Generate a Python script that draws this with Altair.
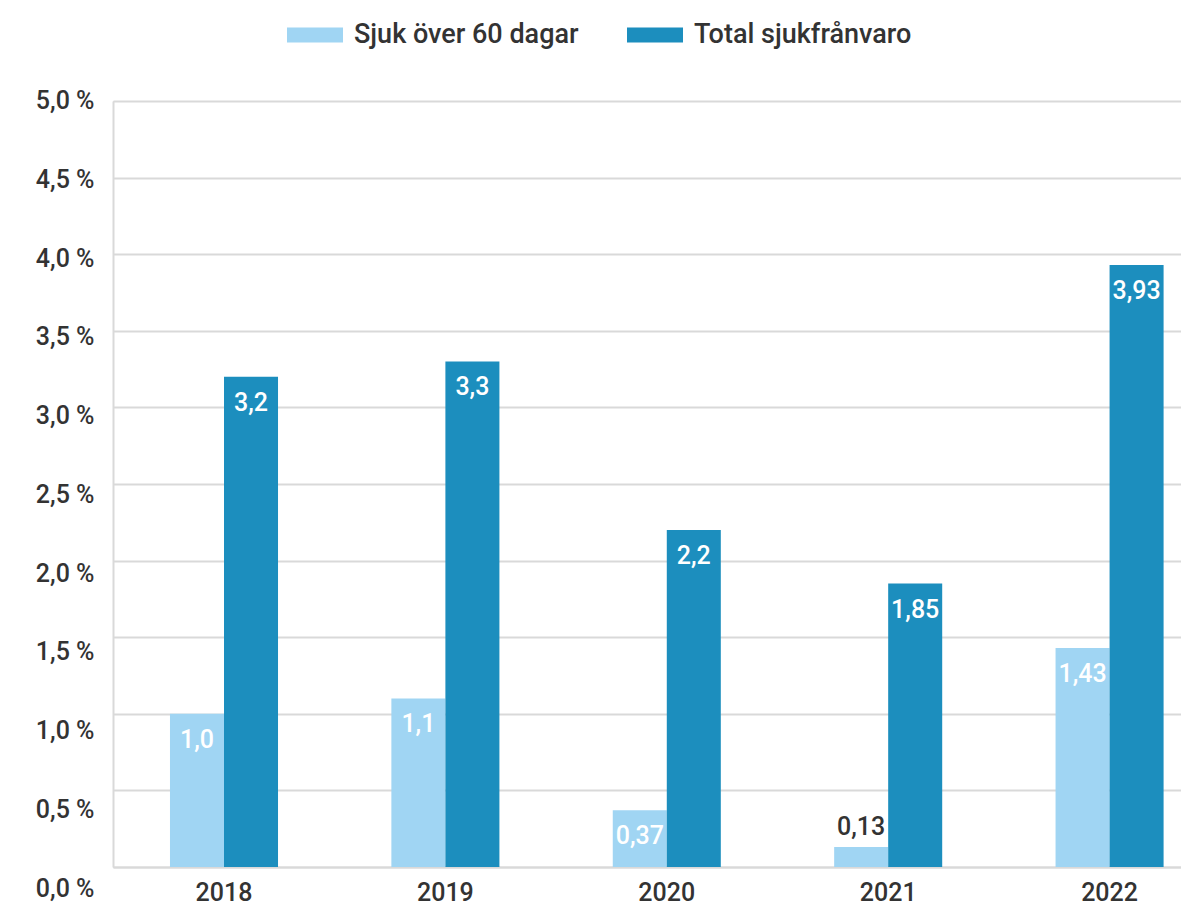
import altair as alt
import pandas as pd

years = ["2018", "2019", "2020", "2021", "2022"]
series = ["Sjuk över 60 dagar", "Total sjukfrånvaro"]
sjuk_60 = [1.0, 1.1, 0.37, 0.13, 1.43]
total = [3.2, 3.3, 2.2, 1.85, 3.93]
y_ticks = [0, 0.5, 1.0, 1.5, 2.0, 2.5, 3.0, 3.5, 4.0, 4.5, 5.0]
colors = ["#A0D5F3", "#1C8EBE"]

rows = []
for i, yr in enumerate(years):
    rows.append({"year": yr, "series": series[0], "value": sjuk_60[i],
                 "label": str(sjuk_60[i]).replace(".", ",")})
    rows.append({"year": yr, "series": series[1], "value": total[i],
                 "label": str(total[i]).replace(".", ",")})
df = pd.DataFrame(rows)

FONT = "Roboto, DejaVu Sans Condensed, sans-serif"
TXT = "#333333"
GRID = "#d9d9d9"
W = 500

x_enc = alt.X("year:N", sort=years,
              scale=alt.Scale(paddingInner=0.512, paddingOuter=0.168, align=0.766),
              axis=alt.Axis(title=None, labelAngle=0, ticks=False, domain=True,
                            domainColor=GRID, domainWidth=2, labelFontSize=25,
                            labelFontWeight=W,
                            labelColor=TXT, labelFont=FONT, labelPadding=13, grid=False))
xo_enc = alt.XOffset("series:N", sort=series,
                     scale=alt.Scale(paddingInner=0, paddingOuter=0))
y_enc = alt.Y("value:Q",
              scale=alt.Scale(domain=[0, 5], nice=False),
              axis=alt.Axis(title=None, values=y_ticks, ticks=False, domain=True,
                            domainColor=GRID, domainWidth=2, grid=True,
                            gridColor=GRID, gridWidth=2, labelFontSize=25,
                            labelFontWeight=W,
                            labelColor=TXT, labelFont=FONT, labelPadding=19,
                            labelOffset={"expr": "21 - 4.3 * datum.value"},
                            labelExpr="replace(format(datum.value, '.1f'), '.', ',') + ' %'"))

bars = alt.Chart(df).mark_bar(opacity=1).encode(
    x=x_enc,
    xOffset=xo_enc,
    y=y_enc,
    color=alt.Color("series:N", sort=series,
                    scale=alt.Scale(domain=series, range=colors),
                    legend=alt.Legend(title=None, orient="none", direction="horizontal",
                                      legendX=174, legendY=-94, padding=0,
                                      symbolType="M-1,-0.268H1V0.268H-1Z",
                                      symbolSize=3136, symbolStrokeWidth=0,
                                      symbolOpacity=1, labelLimit=400,
                                      labelFontSize=27, labelFont=FONT,
                                      labelFontWeight=W,
                                      labelColor=TXT, labelOffset=11,
                                      columnPadding=48)),
)

inside = alt.Chart(df).transform_filter("datum.value >= 0.2").mark_text(
    baseline="middle", align="center", dy=26, fontSize=25, font=FONT,
    fontWeight=W, color="white"
).encode(x=alt.X("year:N", sort=years), xOffset=alt.XOffset("series:N", sort=series),
         y="value:Q", text="label:N")

above = alt.Chart(df).transform_filter("datum.value < 0.2").mark_text(
    baseline="middle", align="center", dy=-20, fontSize=25, font=FONT,
    fontWeight=W, color=TXT
).encode(x=alt.X("year:N", sort=years), xOffset=alt.XOffset("series:N", sort=series),
         y="value:Q", text="label:N")

chart = alt.layer(bars, inside, above).properties(
    width=1068, height=766,
    autosize=alt.AutoSizeParams(type="none"),
    padding={"left": 105, "top": 93, "right": 0, "bottom": 40},
).configure_view(stroke=None).configure(background="white")

chart.save("out.html", embed_options={"renderer": "svg", "actions": False})
